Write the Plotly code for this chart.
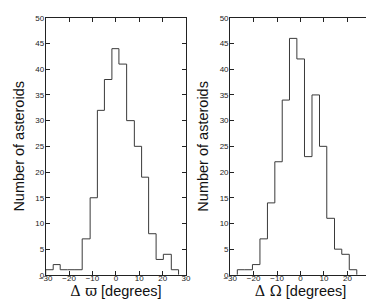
import plotly.graph_objects as go

# Left panel: delta varpi histogram
left_edges = [-30.0, -26.8, -23.8, -20.6, -17.5, -14.4, -11.0, -7.9, -4.9, -1.7,
              1.3, 4.6, 7.9, 11.0, 14.0, 17.2, 20.3, 23.7, 26.8]
left_counts = [1, 2, 1, 1, 1, 7, 15, 32, 38, 44, 41, 30, 25, 19, 8, 3, 4, 1]

# Right panel: delta Omega histogram
right_edges = [-26.95, -23.77, -20.5, -17.3, -14.1, -10.95, -7.8, -4.7, -1.55, 1.7,
               4.9, 8.1, 11.2, 14.5, 17.6, 20.8, 24.0]
right_counts = [1, 1, 2, 7, 14, 22, 34, 46, 42, 23, 35, 25, 11, 5, 4, 1]

x_ticks = [-30, -20, -10, 0, 10, 20, 30]
y_ticks = [0, 5, 10, 15, 20, 25, 30, 35, 40, 45, 50]


def stairs(edges, counts):
    xs = [edges[0]] + edges[:-1] + [edges[-1]]
    ys = [0] + counts + [0]
    return xs, ys


fig = go.Figure()
line = dict(color="#3a3a3a", width=1, shape="hv")

xs, ys = stairs(left_edges, left_counts)
fig.add_trace(go.Scatter(x=xs, y=ys, mode="lines", line=line, xaxis="x", yaxis="y",
                         showlegend=False, hoverinfo="skip"))
xs, ys = stairs(right_edges, right_counts)
fig.add_trace(go.Scatter(x=xs, y=ys, mode="lines", line=line, xaxis="x2", yaxis="y2",
                         showlegend=False, hoverinfo="skip"))

tickfont = dict(family="Liberation Sans, Arial, sans-serif", size=8, color="#222")
titlefont = dict(family="Liberation Sans, Arial, sans-serif", size=14.5, color="#111")

common_x = dict(range=[-30, 30], tickvals=x_ticks, ticks="inside", ticklen=4,
                tickcolor="#222", showline=True, linecolor="#222", linewidth=1,
                mirror="ticks", showgrid=False, zeroline=False, tickfont=tickfont,
                ticklabelstandoff=-4,
                title_font=titlefont, title_standoff=0)
common_y = dict(range=[0, 50], tickvals=y_ticks, ticks="inside", ticklen=4,
                tickcolor="#222", showline=True, linecolor="#222", linewidth=1,
                mirror="ticks", showgrid=False, zeroline=False, tickfont=tickfont,
                ticklabelstandoff=-1,
                title_font=titlefont, title_standoff=7)

serif = "font-family:'DejaVu Serif', 'Liberation Serif', serif"

fig.update_layout(
    width=374, height=300,
    margin=dict(l=0, r=0, t=0, b=0),
    paper_bgcolor="white", plot_bgcolor="white",
    xaxis=dict(domain=[0.0848, 0.4725], anchor="y",
               title_text=f"<span style=\"{serif}\">Δ ϖ</span> [degrees]", **common_x),
    yaxis=dict(domain=[0.0967, 0.98], anchor="x", title_text="Number of asteroids", **common_y),
    xaxis2=dict(domain=[0.5944, 0.983], anchor="y2",
                title_text=f"<span style=\"{serif}\">Δ Ω</span> [degrees]", **common_x),
    yaxis2=dict(domain=[0.0967, 0.98], anchor="x2", title_text="Number of asteroids", **common_y),
)

fig.write_html("out.html")
